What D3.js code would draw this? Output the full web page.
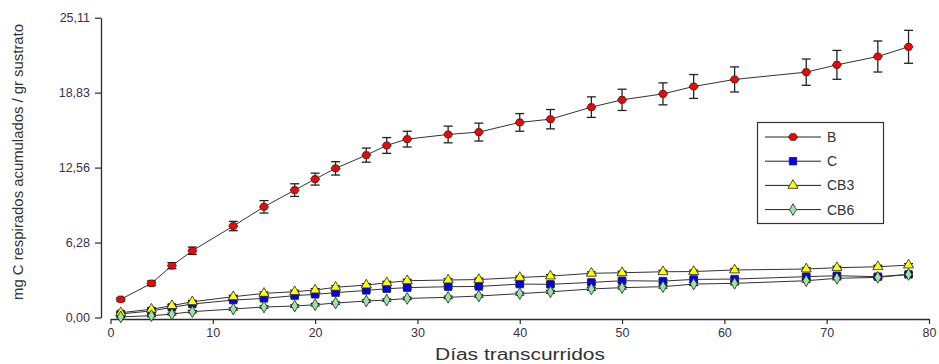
<!DOCTYPE html>
<html>
<head>
<meta charset="utf-8">
<script src="https://cdn.jsdelivr.net/npm/d3@7"></script>
<style>
  body { margin: 0; background: #fff; }
  text { font-family: "Liberation Sans", Arial, sans-serif; }
</style>
</head>
<body>
<script>
// days sampled
var days = [1,4,6,8,12,15,18,20,22,25,27,29,33,36,40,43,47,50,54,57,61,68,71,75,78];

// mg C accumulated per series
var serieB   = [1.52,2.86,4.34,5.59,7.66,9.27,10.67,11.59,12.49,13.60,14.41,14.94,15.33,15.53,16.34,16.61,17.62,18.23,18.73,19.35,19.94,20.55,21.16,21.86,22.67];
var errB     = [0.15,0.20,0.25,0.31,0.39,0.52,0.53,0.50,0.56,0.59,0.66,0.66,0.70,0.75,0.74,0.81,0.86,0.89,0.92,1.00,1.05,1.10,1.21,1.30,1.38];
var serieC   = [0.30,0.55,0.85,1.13,1.46,1.60,1.83,1.94,2.08,2.27,2.41,2.50,2.58,2.60,2.80,2.78,2.94,3.08,3.05,3.19,3.22,3.42,3.50,3.42,3.61];
var errC     = [0.08,0.10,0.10,0.10,0.12,0.12,0.12,0.12,0.12,0.12,0.12,0.12,0.12,0.12,0.14,0.14,0.14,0.14,0.14,0.14,0.14,0.15,0.15,0.15,0.15];
var serieCB3 = [0.40,0.69,0.99,1.32,1.74,2.02,2.16,2.30,2.53,2.72,2.91,3.08,3.14,3.18,3.35,3.47,3.70,3.75,3.83,3.85,3.98,4.06,4.17,4.25,4.39];
var errCB3   = [0.08,0.10,0.10,0.10,0.12,0.12,0.12,0.12,0.12,0.12,0.12,0.12,0.12,0.12,0.12,0.12,0.12,0.12,0.12,0.12,0.12,0.12,0.12,0.12,0.12];
var serieCB6 = [0.05,0.15,0.29,0.49,0.71,0.88,0.96,1.07,1.21,1.38,1.46,1.60,1.69,1.80,2.00,2.15,2.39,2.50,2.58,2.80,2.86,3.08,3.28,3.36,3.61];
var errCB6   = [0.06,0.08,0.08,0.10,0.10,0.10,0.10,0.10,0.10,0.10,0.10,0.10,0.10,0.10,0.12,0.12,0.12,0.12,0.12,0.12,0.12,0.12,0.12,0.12,0.12];

var seriesNames = ["B", "C", "CB3", "CB6"];

var yTickValues = [0, 6.2775, 12.555, 18.8325, 25.11];
var yTickLabels = ["0,00", "6,28", "12,56", "18,83", "25,11"];
var xTickValues = [0,10,20,30,40,50,60,70,80];

var W = 939, H = 364;

var svg = d3.select("body").append("svg")
    .attr("width", W)
    .attr("height", H);

var x = d3.scaleLinear().domain([0, 80]).range([110.5, 929]);
var y = d3.scaleLinear().domain([0, 25.11]).range([317.5, 17.7]);

var ink = "#2b2b2b";

// axes (offset, SigmaPlot style)
var yAxis = svg.append("g")
    .attr("transform", "translate(101,0)")
    .call(d3.axisLeft(y).tickValues(yTickValues)
        .tickFormat(function(d, i) { return yTickLabels[i]; })
        .tickSize(6).tickSizeOuter(0).tickPadding(5));

var xAxis = svg.append("g")
    .attr("transform", "translate(0,319)")
    .call(d3.axisBottom(x).tickValues(xTickValues)
        .tickSize(5).tickSizeOuter(0).tickPadding(4));

[yAxis, xAxis].forEach(function(a) {
  a.select(".domain").attr("stroke", ink).attr("stroke-width", 1.3);
  a.selectAll(".tick line").attr("stroke", ink).attr("stroke-width", 1.2);
  a.selectAll(".tick text").attr("fill", "#3a2f4a").style("font-size", "12.5px")
    .style("font-family", "'Liberation Sans', Arial, sans-serif");
});

// axis titles
svg.append("text")
    .attr("transform", "translate(23,162) rotate(-90)")
    .attr("text-anchor", "middle")
    .attr("fill", "#333")
    .style("font-size", "14px")
    .attr("textLength", 276)
    .attr("lengthAdjust", "spacingAndGlyphs")
    .text("mg C respirados acumulados / gr sustrato");

svg.append("text")
    .attr("x", 520).attr("y", 360)
    .attr("text-anchor", "middle")
    .attr("fill", "#333")
    .style("font-size", "16px")
    .attr("textLength", 170)
    .attr("lengthAdjust", "spacingAndGlyphs")
    .text("Días transcurridos");

function rows(vals, errs) {
  return days.map(function(d, i) { return {x: d, y: vals[i], e: errs[i]}; });
}

var series = [
  {name: seriesNames[0], data: rows(serieB, errB),     sym: "hex",      fill: "#ff0000"},
  {name: seriesNames[1], data: rows(serieC, errC),     sym: d3.symbolSquare,   fill: "#0000ff"},
  {name: seriesNames[2], data: rows(serieCB3, errCB3), sym: d3.symbolTriangle, fill: "#ffff00"},
  {name: seriesNames[3], data: rows(serieCB6, errCB6), sym: d3.symbolDiamond,  fill: "#99e6a0"}
];

function markerPath(sym) {
  if (sym === "hex") {
    // flattened hexagon like the original's red marker
    return "M-4.5,0L-2.3,-3.3L2.3,-3.3L4.5,0L2.3,3.3L-2.3,3.3Z";
  }
  if (sym === d3.symbolSquare) return d3.symbol().type(sym).size(56)();
  if (sym === d3.symbolTriangle) return d3.symbol().type(sym).size(44)();
  return d3.symbol().type(sym).size(40)();
}

var line = d3.line()
    .x(function(d) { return x(d.x); })
    .y(function(d) { return y(d.y); });

var plot = svg.append("g");

// connecting lines first
series.forEach(function(s) {
  plot.append("path")
      .datum(s.data)
      .attr("fill", "none")
      .attr("stroke", "#333")
      .attr("stroke-width", 1)
      .attr("d", line);
});

// error bars
series.forEach(function(s) {
  var g = plot.append("g").attr("stroke", "#222").attr("stroke-width", 1.3);
  g.selectAll("line.v").data(s.data).enter().append("line")
      .attr("x1", function(d) { return x(d.x); })
      .attr("x2", function(d) { return x(d.x); })
      .attr("y1", function(d) { return y(d.y + d.e); })
      .attr("y2", function(d) { return y(d.y - d.e); });
  g.selectAll("line.t").data(s.data).enter().append("line")
      .attr("x1", function(d) { return x(d.x) - 4.5; })
      .attr("x2", function(d) { return x(d.x) + 4.5; })
      .attr("y1", function(d) { return y(d.y + d.e); })
      .attr("y2", function(d) { return y(d.y + d.e); });
  g.selectAll("line.b").data(s.data).enter().append("line")
      .attr("x1", function(d) { return x(d.x) - 4.5; })
      .attr("x2", function(d) { return x(d.x) + 4.5; })
      .attr("y1", function(d) { return y(d.y - d.e); })
      .attr("y2", function(d) { return y(d.y - d.e); });
});

// markers
series.forEach(function(s) {
  plot.append("g").selectAll("path").data(s.data).enter().append("path")
      .attr("transform", function(d) { return "translate(" + x(d.x) + "," + y(d.y) + ")"; })
      .attr("d", markerPath(s.sym))
      .attr("fill", s.fill)
      .attr("stroke", "#222")
      .attr("stroke-width", 0.8);
});

// legend
var legend = svg.append("g");
legend.append("rect")
    .attr("x", 757.5).attr("y", 122.5)
    .attr("width", 126).attr("height", 101)
    .attr("fill", "#fff")
    .attr("stroke", "#333")
    .attr("stroke-width", 1.2);

series.forEach(function(s, i) {
  var ly = 137 + i * 24.2;
  legend.append("line")
      .attr("x1", 765).attr("x2", 821)
      .attr("y1", ly).attr("y2", ly)
      .attr("stroke", "#222").attr("stroke-width", 1);
  legend.append("path")
      .attr("transform", "translate(793," + ly + ")")
      .attr("d", markerPath(s.sym))
      .attr("fill", s.fill)
      .attr("stroke", "#222")
      .attr("stroke-width", 0.8);
  legend.append("text")
      .attr("x", 827).attr("y", ly + 5)
      .attr("fill", "#333")
      .style("font-size", "14px")
      .text(s.name);
});
</script>
</body>
</html>
